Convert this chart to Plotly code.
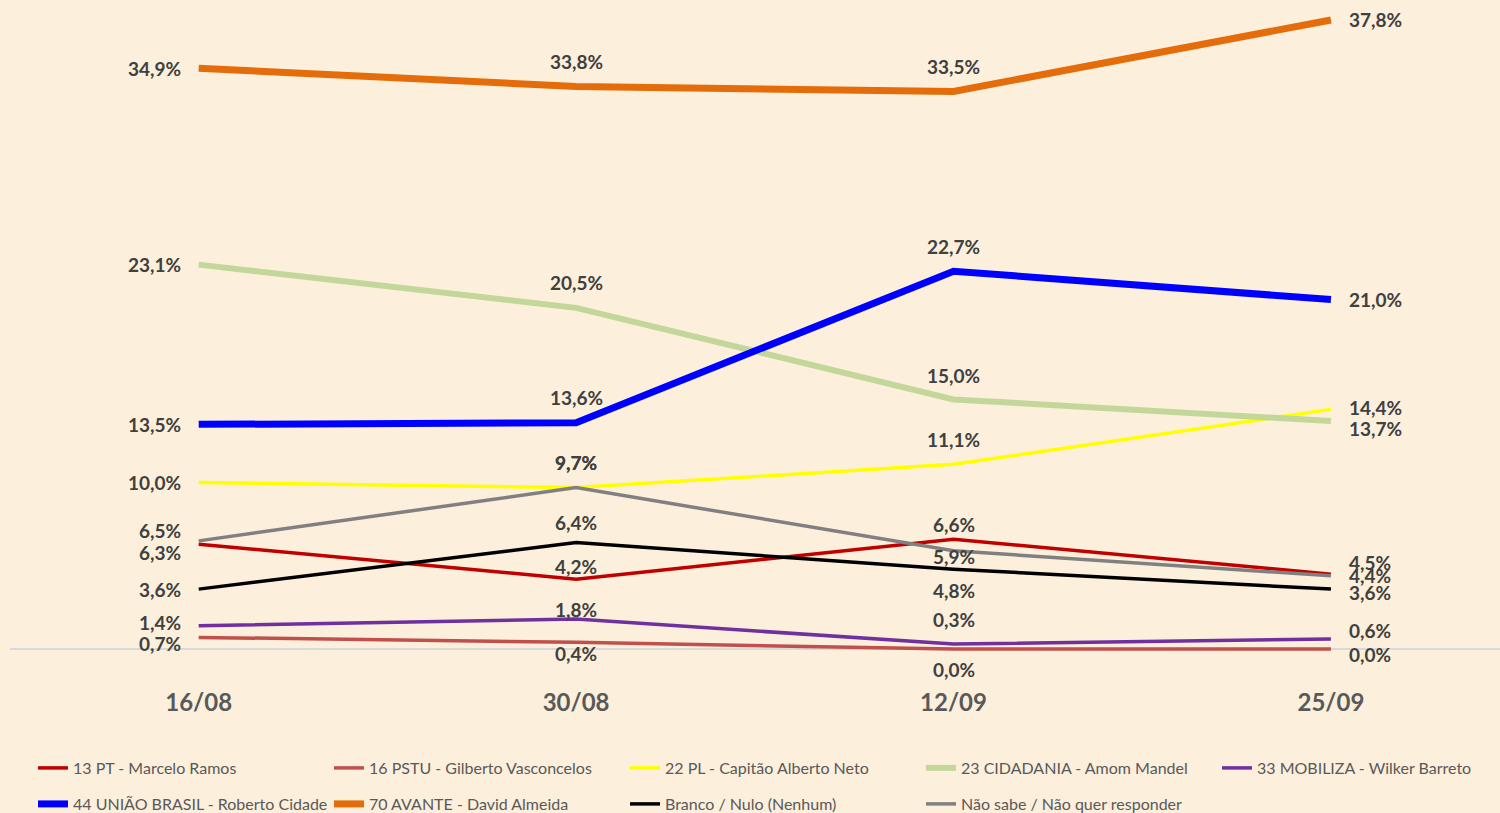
import plotly.graph_objects as go

categories = ["16/08", "30/08", "12/09", "25/09"]

series_names = [
    "13 PT - Marcelo Ramos",
    "16 PSTU - Gilberto Vasconcelos",
    "22 PL - Capitão Alberto Neto",
    "23 CIDADANIA - Amom Mandel",
    "33 MOBILIZA - Wilker Barreto",
    "44 UNIÃO BRASIL - Roberto Cidade",
    "70 AVANTE - David Almeida",
    "Branco / Nulo (Nenhum)",
    "Não sabe / Não quer responder",
]

pt = [6.3, 4.2, 6.6, 4.5]
pstu = [0.7, 0.4, 0.0, 0.0]
pl = [10.0, 9.7, 11.1, 14.4]
cidadania = [23.1, 20.5, 15.0, 13.7]
mobiliza = [1.4, 1.8, 0.3, 0.6]
uniao = [13.5, 13.6, 22.7, 21.0]
avante = [34.9, 33.8, 33.5, 37.8]
branco = [3.6, 6.4, 4.8, 3.6]
naosabe = [6.5, 9.7, 5.9, 4.4]

values = [pt, pstu, pl, cidadania, mobiliza, uniao, avante, branco, naosabe]

# styles
colors = ["#C00000", "#C0504D", "#FFFF00", "#C4D79B", "#7030A0",
          "#0000FF", "#E46C0A", "#000000", "#808080"]
widths = [3.5, 3.5, 3.5, 6, 3.5, 7, 7, 3.5, 3.5]
# label vertical shifts (px, positive = up) per series per category
label_shift = [
    [-8, 13, 15, 12],
    [-6, -11, -20, -5],
    [0, 25, 25, 2],
    [0, 25, 24, -7],
    [3, 10, 25, 9],
    [0, 25, 25, 0],
    [0, 25, 25, 0],
    [0, 20, -21, -3],
    [10, 25, -6, 0],
]

FONT = "Lato"
BG = "#FCEFDB"

fig = go.Figure()
for i, (name, vals) in enumerate(zip(series_names, values)):
    fig.add_trace(go.Scatter(
        x=categories, y=vals, mode="lines", name=name,
        line=dict(color=colors[i], width=widths[i]),
        legend="legend" if i < 5 else "legend2",
        hoverinfo="skip",
    ))

annotations = []
for i, vals in enumerate(values):
    for j, v in enumerate(vals):
        if j == 0:
            xanchor, xshift = "right", -16
        elif j == len(categories) - 1:
            xanchor, xshift = "left", 16
        else:
            xanchor, xshift = "center", 0
        annotations.append(dict(
            x=categories[j], y=v, xref="x", yref="y",
            text=f"{v:.1f}%".replace(".", ","),
            showarrow=False, xanchor=xanchor, yanchor="middle",
            xshift=xshift, yshift=label_shift[i][j],
            font=dict(family=FONT, size=19, color="#404040", weight="bold"),
        ))

legend_common = dict(
    orientation="h", xref="container", yref="container",
    xanchor="left", yanchor="middle",
    entrywidth=251, entrywidthmode="pixels",
    bgcolor="rgba(0,0,0,0)",
    font=dict(family=FONT, size=16, color="#595959"),
    itemclick=False, itemdoubleclick=False,
)

fig.update_layout(
    width=1500, height=813, autosize=False,
    paper_bgcolor=BG, plot_bgcolor=BG,
    margin=dict(l=10, r=0, t=0, b=143),
    showlegend=True,
    xaxis=dict(
        type="category", range=[-0.5, 3.448],
        showgrid=False, zeroline=False, showline=False,
        ticks="", ticklabelstandoff=16,
        tickfont=dict(family=FONT, size=24, color="#595959", weight="bold"),
    ),
    yaxis=dict(
        range=[-1.26, 39.0], showgrid=False, showticklabels=False,
        zeroline=True, zerolinecolor="#D9D9D9", zerolinewidth=1.5, ticks="",
    ),
    legend=dict(**legend_common, x=0.022, y=1 - 768 / 813),
    legend2=dict(**legend_common, x=0.022, y=1 - 804 / 813),
    annotations=annotations,
)

fig.write_html("out.html")
